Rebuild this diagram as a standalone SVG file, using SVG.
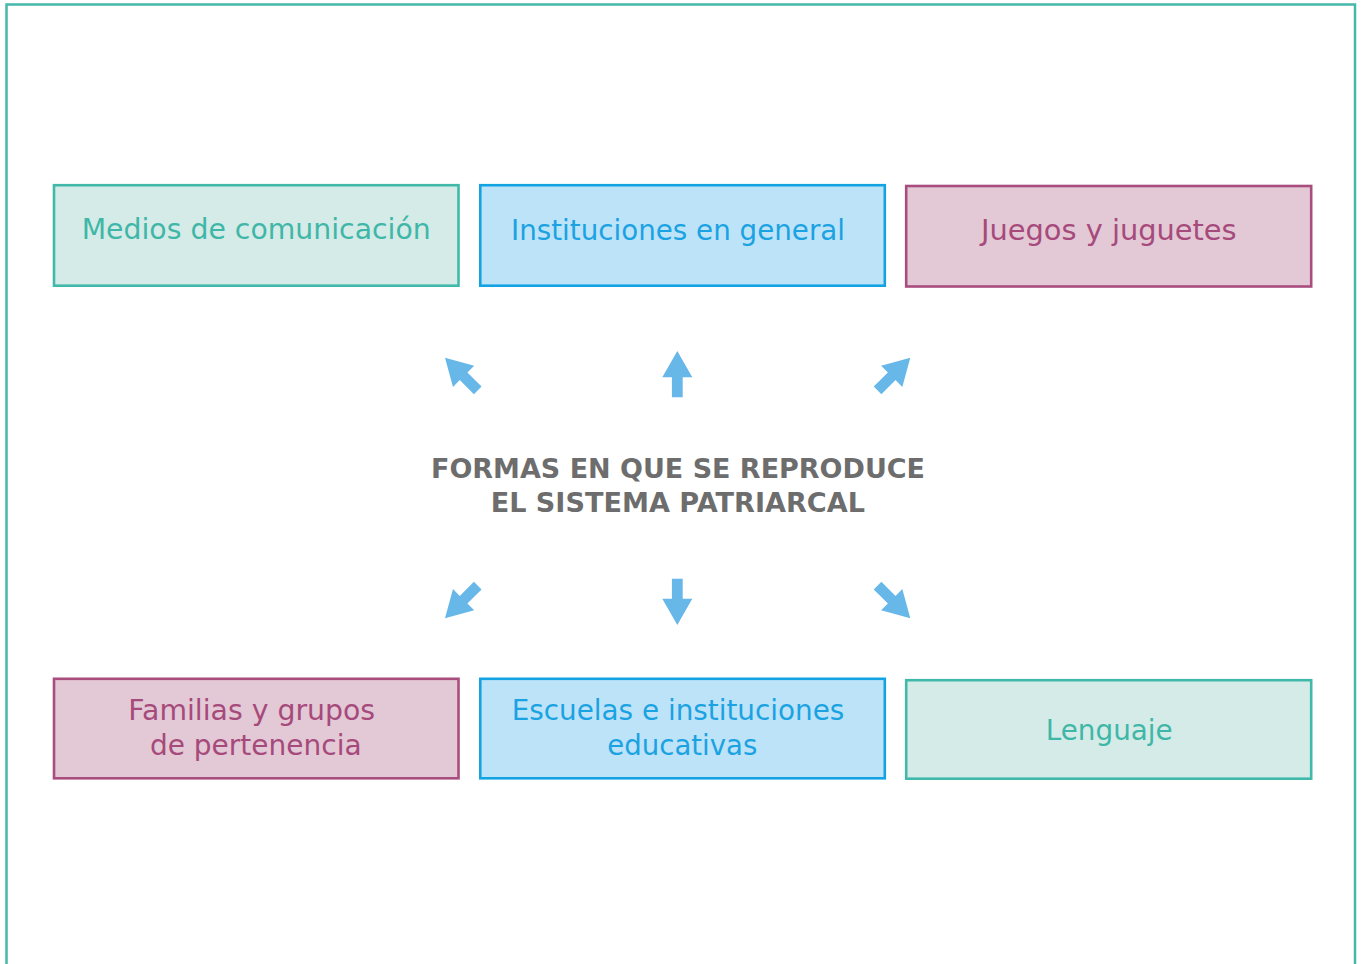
<svg xmlns="http://www.w3.org/2000/svg" width="1362" height="964" viewBox="0 0 1362 964">
<style>
.box{stroke-width:2.6}
.teal{fill:#d5ebe7;stroke:#40b8aa}
.blue{fill:#bde3f8;stroke:#13a3e3}
.pink{fill:#e3c8d6;stroke:#a94d7e}
.lbl{font-family:"DejaVu Sans","Liberation Sans",sans-serif;font-size:28px;text-anchor:middle}
.tteal{fill:#3fb7a8}
.tblue{fill:#1aa2e2}
.tpink{fill:#a64a7b}
.title{font-family:"DejaVu Sans","Liberation Sans",sans-serif;font-size:27px;font-weight:bold;fill:#6d6d6d;text-anchor:middle}
.arr{fill:#67b8e8}
</style>
<defs>
<path id="arrow" d="M0,0 L15,26.3 L5.4,26.3 L5.4,46.3 L-5.4,46.3 L-5.4,26.3 L-15,26.3 Z"/>
</defs>
<rect x="0" y="0" width="1362" height="964" fill="#ffffff"/>
<path d="M6.5,966 V4.5 H1355 V966" fill="none" stroke="#45b8ab" stroke-width="2.5"/>
<g id="medios">
<rect class="box teal" x="54" y="185.2" width="404.5" height="100.5"/>
<text class="lbl tteal" x="256.2" y="239.3" textLength="349" lengthAdjust="spacingAndGlyphs">Medios de comunicación</text>
</g>
<g id="instituciones">
<rect class="box blue" x="480.3" y="185.2" width="404.5" height="100.5"/>
<text class="lbl tblue" x="678" y="240" textLength="334" lengthAdjust="spacingAndGlyphs">Instituciones en general</text>
</g>
<g id="juegos">
<rect class="box pink" x="906.2" y="186" width="405" height="100.5"/>
<text class="lbl tpink" x="1108.8" y="239.5" textLength="255.7" lengthAdjust="spacingAndGlyphs">Juegos y juguetes</text>
</g>
<g id="familias">
<rect class="box pink" x="54" y="678.8" width="404.5" height="99.5"/>
<text class="lbl tpink" x="251.7" y="720" textLength="246.7" lengthAdjust="spacingAndGlyphs">Familias y grupos</text>
<text class="lbl tpink" x="255.8" y="755" textLength="211.7" lengthAdjust="spacingAndGlyphs">de pertenencia</text>
</g>
<g id="escuelas">
<rect class="box blue" x="480.3" y="678.8" width="404.5" height="99.5"/>
<text class="lbl tblue" x="678" y="719.5" textLength="332.6" lengthAdjust="spacingAndGlyphs">Escuelas e instituciones</text>
<text class="lbl tblue" x="682.3" y="755" textLength="150" lengthAdjust="spacingAndGlyphs">educativas</text>
</g>
<g id="lenguaje">
<rect class="box teal" x="906.2" y="680.2" width="405" height="98.5"/>
<text class="lbl tteal" x="1109.2" y="740" textLength="127" lengthAdjust="spacingAndGlyphs">Lenguaje</text>
</g>
<g id="centro">
<text class="title" x="678" y="477.7" textLength="494" lengthAdjust="spacingAndGlyphs">FORMAS EN QUE SE REPRODUCE</text>
<text class="title" x="677.8" y="512" textLength="374.3" lengthAdjust="spacingAndGlyphs">EL SISTEMA PATRIARCAL</text>
</g>
<g id="connectors" class="arr">
<use href="#arrow" transform="translate(677.3,351)"/>
<use href="#arrow" transform="translate(677.3,625) rotate(180)"/>
<use href="#arrow" transform="translate(445,357.7) rotate(-45)"/>
<use href="#arrow" transform="translate(910.3,357.7) rotate(45)"/>
<use href="#arrow" transform="translate(445,618.3) rotate(-135)"/>
<use href="#arrow" transform="translate(910.3,618.3) rotate(135)"/>
</g>
</svg>
